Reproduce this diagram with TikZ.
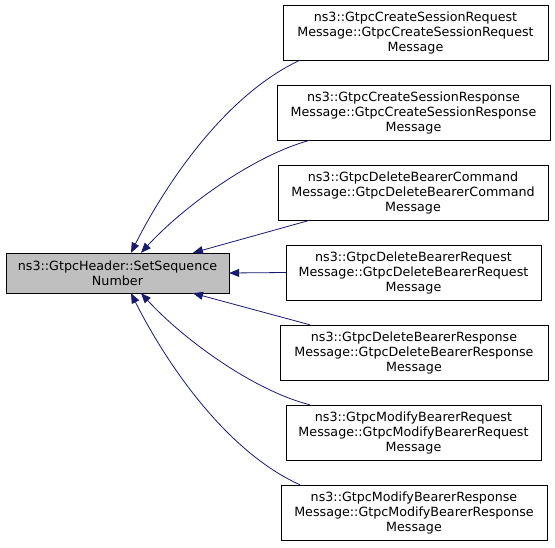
\documentclass[tikz,border=0pt]{standalone}
\usepackage{fontspec}
\setmainfont{DejaVu Sans}
\usetikzlibrary{arrows.meta}
\definecolor{edgeBlue}{HTML}{191970}
\definecolor{mainGray}{HTML}{BFBFBF}

\begin{document}
\begin{tikzpicture}[x=1pt,y=-1pt,font=\fontsize{12.7}{15}\selectfont,
    fnbox/.style={draw=black,fill=white,align=center,minimum height=55pt,inner sep=0pt},
    callee/.style={draw=black,fill=mainGray,align=center,minimum height=40pt,minimum width=223pt,inner sep=0pt},
    edge/.style={<-,edgeBlue,line width=0.8pt,>={Triangle[length=10pt,width=8pt]}}
]
  \useasboundingbox (0,0) rectangle (555,547);

  % Called function
  \node[callee] (main) at (117.5,273) {ns3::GtpcHeader::SetSequence\\Number};

  % Callers
  \node[fnbox,minimum width=265pt] (csreq) at (415.5,32.5) {ns3::GtpcCreateSessionRequest\\Message::GtpcCreateSessionRequest\\Message};
  \node[fnbox,minimum width=273pt] (csres) at (413.5,112.5) {ns3::GtpcCreateSessionResponse\\Message::GtpcCreateSessionResponse\\Message};
  \node[fnbox,minimum width=270pt] (dbcmd) at (413,192.5) {ns3::GtpcDeleteBearerCommand\\Message::GtpcDeleteBearerCommand\\Message};
  \node[fnbox,minimum width=255pt] (dbreq) at (413.5,272.5) {ns3::GtpcDeleteBearerRequest\\Message::GtpcDeleteBearerRequest\\Message};
  \node[fnbox,minimum width=268pt] (dbres) at (414,352.5) {ns3::GtpcDeleteBearerResponse\\Message::GtpcDeleteBearerResponse\\Message};
  \node[fnbox,minimum width=255pt] (mbreq) at (413.5,432.5) {ns3::GtpcModifyBearerRequest\\Message::GtpcModifyBearerRequest\\Message};
  \node[fnbox,minimum width=266pt] (mbres) at (414,512.5) {ns3::GtpcModifyBearerResponse\\Message::GtpcModifyBearerResponse\\Message};

  % Call edges
  \draw[edge] ([xshift=13.5pt]main.north) .. controls (165,185) and (225,95) .. ([xshift=-115.5pt]csreq.south);
  \draw[edge] ([xshift=23.5pt]main.north) .. controls (185,205) and (255,155) .. ([xshift=-103.5pt]csres.south);
  \draw[edge] ([xshift=75.5pt]main.north) -- ([xshift=-103pt]dbcmd.south);
  \draw[edge] (main.east) -- (dbreq.west);
  \draw[edge] ([xshift=75.5pt]main.south) -- ([xshift=-104pt]dbres.north);
  \draw[edge] ([xshift=23.5pt]main.south) .. controls (185,341) and (255,391) .. ([xshift=-103.5pt]mbreq.north);
  \draw[edge] ([xshift=13.5pt]main.south) .. controls (165,361) and (225,451) .. ([xshift=-114pt]mbres.north);
\end{tikzpicture}
\end{document}
